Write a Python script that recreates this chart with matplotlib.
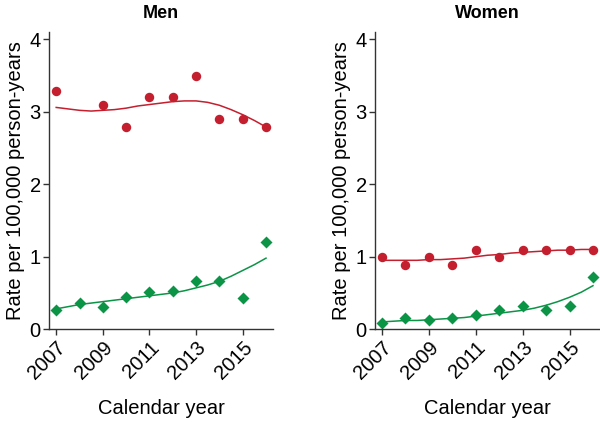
import numpy as np
import matplotlib
matplotlib.use('Agg')
import matplotlib.pyplot as plt

plt.rcParams['font.family'] = ['Liberation Sans', 'DejaVu Sans']

# observed rates (per 100,000 person-years)
years = [2007, 2008, 2009, 2010, 2011, 2012, 2013, 2014, 2015, 2016]
men_red_years = [2007, 2009, 2010, 2011, 2012, 2013, 2014, 2015, 2016]
men_red = [3.29, 3.09, 2.79, 3.2, 3.2, 3.49, 2.9, 2.9, 2.79]
men_green = [0.27, 0.36, 0.30, 0.44, 0.51, 0.53, 0.66, 0.66, 0.43, 1.20]
women_red = [1.0, 0.89, 1.0, 0.89, 1.09, 1.0, 1.09, 1.09, 1.09, 1.09]
women_green = [0.08, 0.15, 0.12, 0.16, 0.19, 0.27, 0.32, 0.26, 0.32, 0.72]

# fitted curves, every half year
fit_years = [2007, 2007.5, 2008, 2008.5, 2009, 2009.5, 2010, 2010.5, 2011, 2011.5,
             2012, 2012.5, 2013, 2013.5, 2014, 2014.5, 2015, 2015.5, 2016]
men_red_fit = [3.06, 3.04, 3.02, 3.01, 3.02, 3.03, 3.05, 3.08, 3.10, 3.12,
               3.14, 3.15, 3.15, 3.13, 3.09, 3.03, 2.96, 2.88, 2.79]
men_green_fit = [0.28, 0.31, 0.34, 0.36, 0.38, 0.40, 0.42, 0.44, 0.46, 0.48,
                 0.50, 0.53, 0.57, 0.61, 0.66, 0.73, 0.81, 0.89, 0.98]
women_red_fit = [0.95, 0.95, 0.95, 0.95, 0.96, 0.96, 0.97, 0.98, 1.00, 1.02,
                 1.03, 1.05, 1.06, 1.07, 1.08, 1.09, 1.09, 1.10, 1.10]
women_green_fit = [0.10, 0.11, 0.12, 0.12, 0.13, 0.14, 0.15, 0.16, 0.18, 0.20,
                   0.22, 0.24, 0.26, 0.29, 0.33, 0.38, 0.44, 0.51, 0.60]

red = '#c41f2e'
green = '#0b9446'
xticks = [2007, 2009, 2011, 2013, 2015]

fig = plt.figure(figsize=(6, 4.22), dpi=100)
ax1 = fig.add_axes([0.082, 0.220, 0.373, 0.704])
ax2 = fig.add_axes([0.625, 0.220, 0.375, 0.704])

panels = [
    (ax1, 'Men', men_red_years, men_red, men_green, men_red_fit, men_green_fit),
    (ax2, 'Women', years, women_red, women_green, women_red_fit, women_green_fit),
]

for ax, title, ryears, rvals, gvals, rfit, gfit in panels:
    ax.plot(fit_years, rfit, color=red, lw=1.1)
    ax.plot(fit_years, gfit, color=green, lw=1.1)
    ax.plot(ryears, rvals, 'o', color=red, ms=6.8, mec='none')
    ax.plot(years, gvals, 'D', color=green, ms=5.8, mec='none')
    ax.set_xlim(2006.7, 2016.3)
    ax.set_ylim(0, 4.1)
    ax.set_yticks([0, 1, 2, 3, 4])
    ax.set_xticks(xticks)
    ax.set_xticklabels([str(x) for x in xticks], rotation=45, ha='right',
                       rotation_mode='anchor')
    for s in ['top', 'right']:
        ax.spines[s].set_visible(False)
    for s in ['left', 'bottom']:
        ax.spines[s].set_color('#333333')
        ax.spines[s].set_linewidth(1.0)
    ax.tick_params(direction='out', length=4, width=1.0, color='#333333',
                   labelsize=14.5, pad=2)
    ax.set_ylabel('Rate per 100,000 person-years', fontsize=14.5, labelpad=3)
    ax.set_xlabel('Calendar year', fontsize=14.5, labelpad=12)
    ax.set_title(title, fontsize=13, fontweight='bold', pad=10)

fig.savefig('out.png', dpi=100)
